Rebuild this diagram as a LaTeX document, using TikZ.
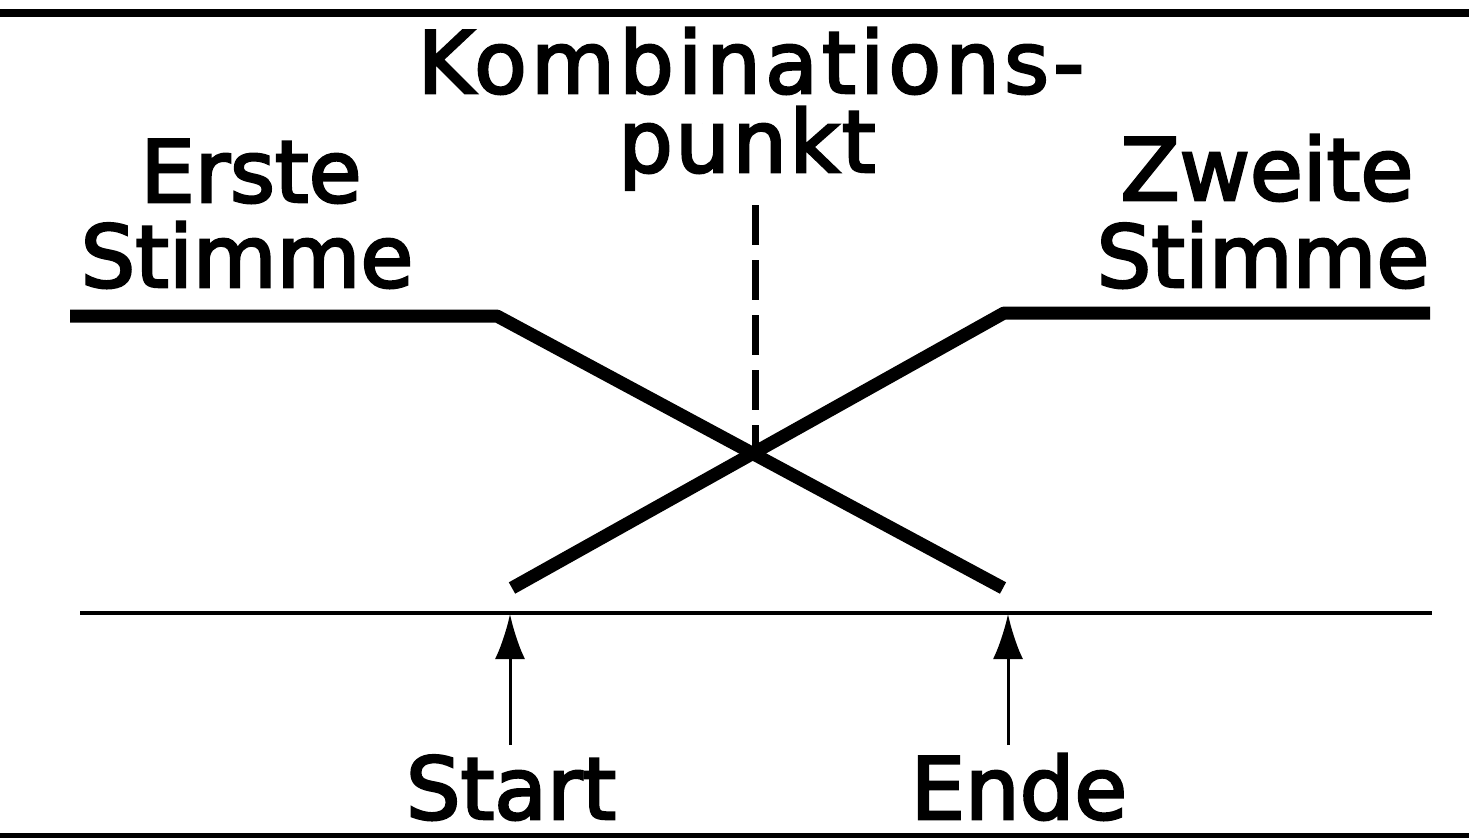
\documentclass[tikz,border=0pt]{standalone}
\usepackage{fontspec}
\setmainfont{DejaVu Sans}
\newfontfamily\lblfont[FakeBold=3]{DejaVu Sans}
\usetikzlibrary{arrows.meta}
\begin{document}
\begin{tikzpicture}[x=1pt,y=-1pt,
  lbl/.style={inner sep=0pt, anchor=base, font=\lblfont\fontsize{86}{90}\selectfont},
  voice/.style={line width=13pt, line join=round},
  rule/.style={line width=#1},
  pointer/.style={line width=3pt, -{Latex[length=45pt,width=30pt]}},
  guide/.style={line width=7pt, dash pattern=on 40pt off 15pt}]
\useasboundingbox (0,0) rectangle (1469,839);
% frame rules
\coordinate (tl) at (0,13);  \coordinate (tr) at (1469,13);
\coordinate (bl) at (0,835); \coordinate (br) at (1469,835);
\draw[rule=8pt] (tl) -- (tr);
\draw[rule=5pt] (bl) -- (br);
% time axis
\coordinate (al) at (80,613); \coordinate (ar) at (1432,613);
\draw[rule=4pt] (al) -- (ar);
% voices
\coordinate (v1a) at (70,316);  \coordinate (v1b) at (497,316);  \coordinate (v1c) at (1003,588);
\coordinate (v2a) at (1430,313); \coordinate (v2b) at (1004,313); \coordinate (v2c) at (512,588);
\draw[voice] (v1a) -- (v1b) -- (v1c);
\draw[voice] (v2a) -- (v2b) -- (v2c);
% combination point
\coordinate (X) at (755,452);
\coordinate (dtop) at (755,205);
\draw[guide] (dtop) -- (X);
% labels
\node[lbl] (komb) at (751,93) {\addfontfeature{LetterSpace=5}Kombinations-};
\node[lbl] (punkt) at (747,172) {\addfontfeature{LetterSpace=3}punkt};
\node[lbl] (erste) at (251,202) {Erste};
\node[lbl] (stimme1) at (247,287) {Stimme};
\node[lbl] (zweite) at (1267,200) {Zweite};
\node[lbl] (stimme2) at (1263,287) {Stimme};
\node[lbl] (start) at (511,819) {Start};
\node[lbl] (ende) at (1019,819) {Ende};
% pointers
\coordinate (s0) at (510,745); \coordinate (s1) at (510,614);
\coordinate (e0) at (1008,745); \coordinate (e1) at (1008,614);
\draw[pointer] (s0) -- (s1);
\draw[pointer] (e0) -- (e1);
\end{tikzpicture}
\end{document}
